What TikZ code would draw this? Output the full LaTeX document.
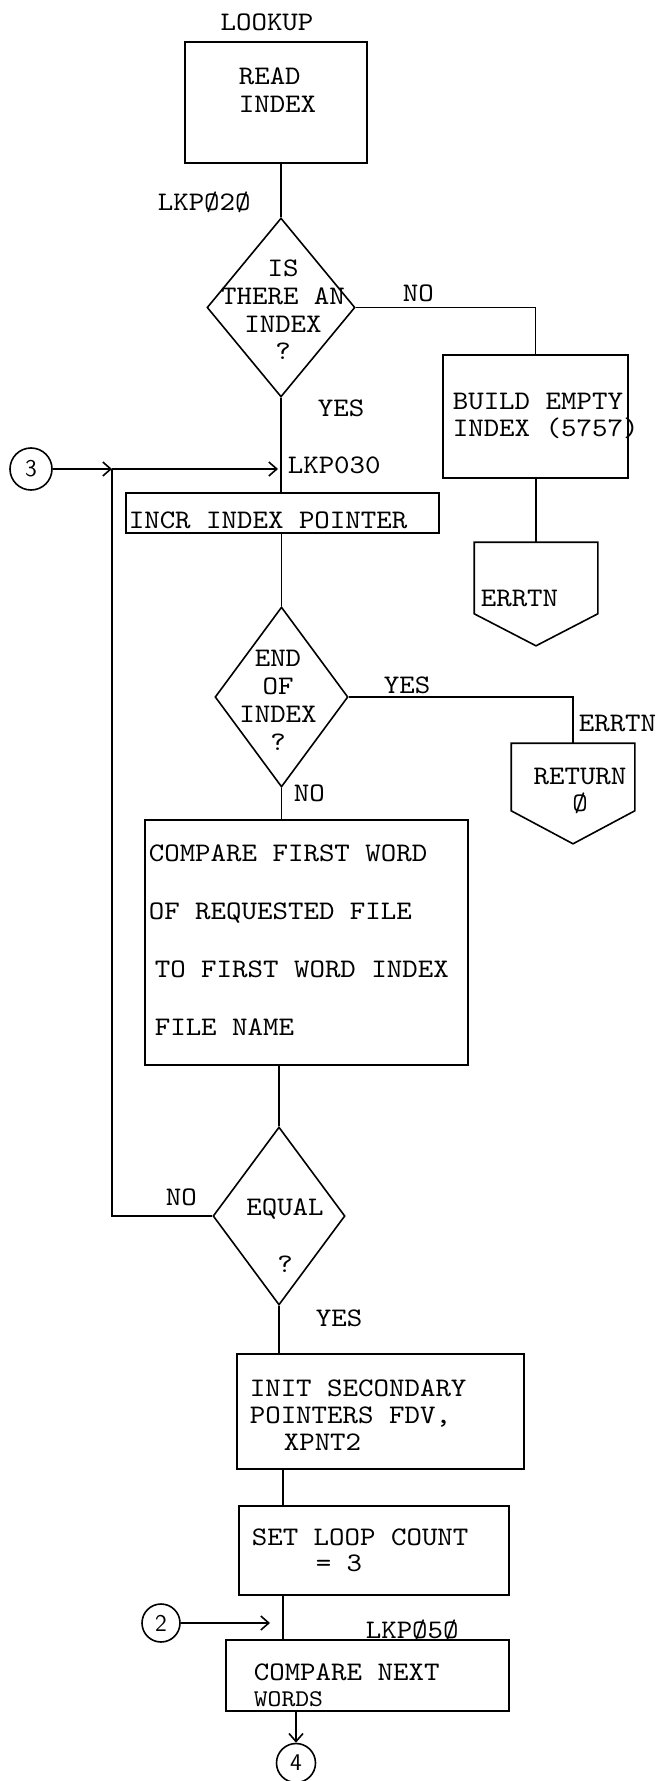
\documentclass[tikz,border=0pt]{standalone}
\usepackage{fontspec}
\setmonofont[FakeStretch=1.1]{lmmono10-regular.otf}
\usetikzlibrary{shapes.geometric,arrows.meta}
\newcommand\mytt[1]{\ttfamily\fontsize{13.4pt}{#1}\selectfont}
\begin{document}
\begin{tikzpicture}[x=0.5pt,y=-0.5pt, line width=0.8pt,
  txt/.style={font=\mytt{14pt}, inner sep=0pt, align=left},
  ctxt/.style={txt, align=center},
  box/.style={draw, rectangle, inner sep=0pt},
  decision/.style={draw, diamond, inner sep=0pt},
  ghost/.style={rectangle, inner sep=0pt},
  conn/.style={draw, circle, inner sep=0pt, font=\sffamily\fontsize{12pt}{12pt}\selectfont},
  flow/.style={-{Straight Barb[length=4pt,width=7pt]}}]
\useasboundingbox (0,0) rectangle (660,1781);

% top
\node[txt] (lookup) at (267,22) {LOOKUP};
\node[box, minimum width=91pt, minimum height=60.5pt] (read) at (276,102.5) {};
\node[txt, anchor=west] (readt) at (238,90) {READ\\INDEX};
\node[txt, anchor=west] (lkp20) at (157,202) {LKPØ2Ø};

% decision 1
\node[decision, minimum width=74pt, minimum height=89.5pt] (d1) at (281,307.5) {};
\node[ctxt, font=\mytt{13.85pt}] (d1t) at (283,310) {IS\\THERE AN\\INDEX\\?};
\node[txt, anchor=west] (yes1) at (317,408) {YES};
\node[txt, anchor=west] (no1) at (402,293) {NO};

% build empty index
\node[box, minimum width=92.5pt, minimum height=61.5pt] (build) at (535.5,416.5) {};
\node[txt, anchor=west, font=\mytt{13.5pt}] (buildt) at (452,416) {BUILD EMPTY\\INDEX (5757)};
\node[ghost, minimum width=61pt, minimum height=35pt] (err1) at (536,578) {};
\draw (err1.north west) -- (err1.north east) -- (err1.south east) -- ([yshift=-16pt]err1.south) -- (err1.south west) -- cycle;
\node[txt, anchor=west] (err1t) at (480,598) {ERRTN};

% connector 3 and LKP030
\node[conn, minimum size=21pt] (c3n) at (31,469) {3};
\coordinate (c3) at (112,469);
\node[txt, anchor=west] (lkp30) at (287,465) {LKP030};

% incr index pointer
\node[box, minimum width=156.5pt, minimum height=20pt] (incr) at (282.5,513) {};
\node[txt, anchor=west] (incrt) at (128,520) {INCR INDEX POINTER};

% decision 2
\node[decision, minimum width=66.5pt, minimum height=90pt] (d2) at (281.5,697) {};
\node[ctxt] (d2t) at (278,700) {END\\OF\\INDEX\\?};
\node[txt, anchor=west] (yes2) at (383,685) {YES};
\node[txt, anchor=west] (err2l) at (578,723) {ERRTN};
\node[ghost, minimum width=61pt, minimum height=33pt] (ret) at (573,777) {};
\draw (ret.north west) -- (ret.north east) -- (ret.south east) -- ([yshift=-16.5pt]ret.south) -- (ret.south west) -- cycle;
\node[ctxt, font=\mytt{13.5pt}] (rett) at (580,791) {RETURN\\Ø};
\node[txt, anchor=west] (no2) at (293,793) {NO};

% compare first word
\node[box, minimum width=161.5pt, minimum height=122.5pt] (cmp) at (306.5,942.5) {};
\node[txt, anchor=west, font=\mytt{29pt}] (cmpt) at (148,940) {COMPARE FIRST WORD\\OF REQUESTED FILE\\\hspace*{3pt}TO FIRST WORD INDEX\\\hspace*{3pt}FILE NAME};

% decision 3
\node[decision, minimum width=66pt, minimum height=89pt] (d3) at (279,1216) {};
\node[ctxt, font=\mytt{28.5pt}] (d3t) at (285,1236) {EQUAL\\?};
\node[txt, anchor=west] (no3) at (165,1197) {NO};
\node[txt, anchor=west] (yes3) at (315,1318) {YES};

% init secondary pointers
\node[box, minimum width=143.5pt, minimum height=57.5pt] (init) at (380.5,1411.5) {};
\node[txt, anchor=west, font=\mytt{13.5pt}] (initt) at (249,1415) {INIT SECONDARY\\POINTERS FDV,\\\hspace*{17pt}XPNT2};

% set loop count
\node[box, minimum width=135pt, minimum height=44.5pt] (set) at (374,1550.5) {};
\node[txt, anchor=west, font=\mytt{13pt}] (sett) at (251,1550) {SET LOOP COUNT\\\hspace*{32pt}= 3};
\coordinate (mx) at (283,1500);

% compare next words
\node[conn, minimum size=19pt] (c2n) at (161,1623) {2};
\coordinate (a2) at (270,1623);
\node[txt, anchor=west] (lkp50) at (365,1630) {LKPØ5Ø};
\node[box, minimum width=141.5pt, minimum height=35.5pt] (next) at (367.5,1675.5) {};
\node[txt, anchor=west, font=\mytt{13pt}] (nextt) at (253,1685) {COMPARE NEXT\\{\fontsize{12pt}{13pt}\selectfont WORDS}};
\node[conn, minimum size=19.5pt] (c4n) at (296,1763) {4};

% connectors
\draw (read.south -| d1.north) -- (d1.north);
\draw (d1.east) -| (build.north);
\draw (d1.south) -- (d1.south |- incr.north);
\draw (build.south -| err1.north) -- (err1.north);
\draw[flow] (c3n) -- (c3);
\draw[flow] (c3) -- ([xshift=-1.5pt]d1.south |- c3);
\draw (d3.west) -| (c3);
\draw (incr.south -| d2.north) -- (d2.north);
\draw (d2.east) -| (ret.north);
\draw (d2.south) -- (d2.south |- cmp.north);
\draw (d3.north |- cmp.south) -- (d3.north);
\draw (d3.south) -- (d3.south |- init.north);
\draw (init.south -| mx) -- (set.north -| mx);
\draw (set.south -| mx) -- (next.north -| mx);
\draw[flow] (c2n) -- (a2);
\draw[flow] (next.south -| c4n.north) -- (c4n.north);
\end{tikzpicture}
\end{document}
